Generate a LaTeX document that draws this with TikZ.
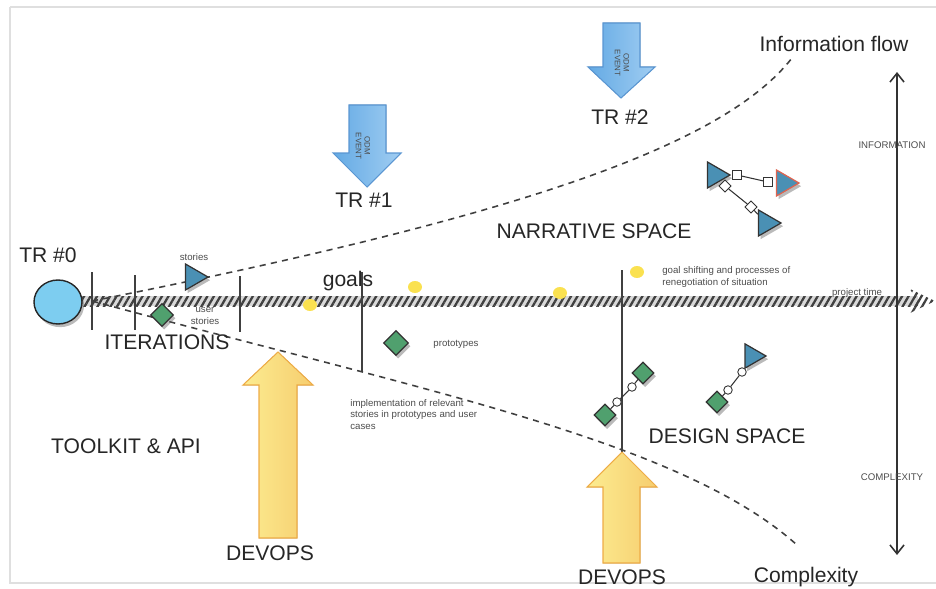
\documentclass[tikz,border=0pt]{standalone}
\usepackage{fontspec}
\setmainfont{Liberation Sans}
\usetikzlibrary{shapes.geometric,shadows,patterns.meta,arrows.meta}
\definecolor{trblue}{RGB}{125,205,240}
\definecolor{triblue}{RGB}{74,144,180}
\definecolor{diagreen}{RGB}{80,160,110}
\definecolor{dotyellow}{RGB}{250,225,80}
\definecolor{odmlight}{RGB}{160,205,242}
\definecolor{odmdark}{RGB}{100,170,228}
\definecolor{odmedge}{RGB}{90,150,210}
\definecolor{devlight}{RGB}{252,236,145}
\definecolor{devdark}{RGB}{246,205,110}
\definecolor{devedge}{RGB}{238,172,70}
\definecolor{rededge}{RGB}{222,100,80}

\begin{document}
\begin{tikzpicture}[x=0.02cm,y=-0.02cm,
  bigtext/.style={font=\fontsize{12}{14}\selectfont,inner sep=0pt,text=black!85},
  smalltext/.style={font=\fontsize{5.5}{6.5}\selectfont,inner sep=0pt,text=black!70},
  softshadow/.style={drop shadow={opacity=0.45,fill=black!60,shadow xshift=1.2pt,shadow yshift=-1.8pt}},
  storytri/.style={regular polygon,regular polygon sides=3,shape border rotate=-90,
    minimum size=0.6cm,inner sep=0pt,fill=triblue,draw=black!80,line width=0.7pt,softshadow},
  protodia/.style={diamond,minimum size=0.46cm,inner sep=0pt,fill=diagreen,
    draw=black!80,line width=0.7pt,softshadow},
  goaldot/.style={ellipse,minimum width=0.28cm,minimum height=0.24cm,inner sep=0pt,fill=dotyellow},
  port/.style={rectangle,minimum size=0.17cm,inner sep=0pt,fill=white,draw=black!80,line width=0.5pt},
  portdia/.style={port,rotate=45},
  joint/.style={circle,minimum size=0.17cm,inner sep=0pt,fill=white,draw=black!80,line width=0.5pt},
  link/.style={draw=black!80,line width=0.6pt},
  flow/.style={dash pattern=on 3.5pt off 3pt,line width=0.9pt,draw=black!75},
  tick/.style={line width=0.8pt,draw=black!75},
  odmarrow/.style={left color=odmdark,right color=odmlight,draw=odmedge,line width=0.6pt},
  devarrow/.style={left color=devlight,right color=devdark,draw=devedge,line width=0.6pt},
  odmtext/.style={font=\fontsize{4.5}{5}\selectfont,align=center,rotate=-90,inner sep=0pt,text=black!70}]
\useasboundingbox (0,0) rectangle (936,588);
\draw [gray!25,line width=1.5pt] (10,7) -- (940,7);
\draw [gray!25,line width=1.5pt] (10,7) -- (10,583) -- (940,583);

% time line
\fill [gray!30] (80,296) rectangle (918,306);
\path [pattern={Lines[angle=60,distance=3.2pt,line width=1.3pt]},pattern color=black!75] (80,296) rectangle (918,306);
\path [pattern={Lines[angle=60,distance=3.2pt,line width=1.3pt]},pattern color=black!75] (910,289) -- (935,301) -- (910,313) -- (917,301) -- cycle;
\node [smalltext] (ptime) at (857,293) {project time};

\node [ellipse,minimum width=0.96cm,minimum height=0.88cm,fill=trblue,draw=black!85,line width=0.8pt,softshadow] (tr0) at (58,302) {};
\node [bigtext] (tr0lbl) at (48,255) {TR \#0};

\draw [tick] (92,272) -- (92,330);
\draw [tick] (135,275) -- (135,330);
\draw [tick] (240,276) -- (240,332);
\draw [tick] (362,272) -- (362,372);
\draw [tick] (622,270) -- (622,452);

% flows
\coordinate (fl0) at (92,301);
\coordinate (infoend) at (792,58);
\coordinate (cplxend) at (797,545);
\draw [flow] (fl0) .. controls (500,220) and (720,150) .. (infoend);
\draw [flow] (fl0) .. controls (420,390) and (680,440) .. (cplxend);

% axis
\coordinate (axtop) at (897,72);
\coordinate (axbot) at (897,555);
\draw [line width=0.9pt,black!80,{Straight Barb[length=5pt,width=8pt]}-{Straight Barb[length=5pt,width=8pt]}] (axtop) -- (axbot);
\node [smalltext] (infolbl) at (892,145) {INFORMATION};
\node [smalltext] (cplxlbl) at (892,477) {COMPLEXITY};
\node [bigtext] (infoflow) at (834,44) {Information flow};
\node [bigtext] (cplx) at (806,577) {Complexity};

% iterations
\node [storytri] (stories) at (193,277) {};
\node [smalltext] (storieslbl) at (194,257) {stories};
\node [protodia] (userdia) at (162,315) {};
\node [smalltext,align=center] (userlbl) at (205,316) {user\\stories};
\node [bigtext] (iter) at (167,342) {ITERATIONS};

% goals
\node [goaldot] (goal1) at (310,305) {};
\node [goaldot] (goal2) at (415,287) {};
\node [goaldot] (goal3) at (560,293) {};
\node [goaldot] (goal4) at (637,272) {};
\node [bigtext] (goals) at (348,281) {goals};
\node [smalltext,align=left,anchor=west] (shift) at (662,277) {goal shifting and processes of\\renegotiation of situation};
\node [protodia,minimum size=0.5cm] (protodia) at (396,343) {};
\node [smalltext] (protolbl) at (456,344) {prototypes};
\node [smalltext,align=left,anchor=north west] (impl) at (350,399) {implementation of relevant\\stories in prototypes and user\\cases};

% events
\filldraw [odmarrow] (349,105) -- (386,105) -- (386,153) -- (401,153) -- (367,187) -- (333,153) -- (349,153) -- cycle;
\node [odmtext] (odm1) at (363,146) {ODM\\EVENT};
\node [bigtext] (tr1) at (364,200) {TR \#1};
\filldraw [odmarrow] (603,23) -- (640,23) -- (640,67) -- (655,67) -- (621,98) -- (588,67) -- (603,67) -- cycle;
\node [odmtext] (odm2) at (622,63) {ODM\\EVENT};
\node [bigtext] (tr2) at (620,117) {TR \#2};

\node [bigtext] (narr) at (594,231) {NARRATIVE SPACE};
\node [bigtext] (design) at (727,436) {DESIGN SPACE};
\node [bigtext] (toolkit) at (126,446) {TOOLKIT \& API};

% narrative net
\node [storytri] (nA) at (715,175) {};
\node [storytri,draw=rededge] (nB) at (784,183) {};
\node [storytri] (nC) at (766,223) {};
\node [port] (qa1) at (737,175) {};
\node [port] (qb1) at (768,182) {};
\node [portdia] (qa2) at (725,186) {};
\node [portdia] (qc2) at (751,207) {};
\draw [link] (qa1) -- (qb1);
\draw [link] (qa2) -- (qc2) -- (nC);

% design nets
\node [protodia,minimum size=0.44cm] (g1) at (643,373) {};
\node [joint] (j1) at (632,387) {};
\node [joint] (j2) at (617,402) {};
\node [protodia,minimum size=0.44cm] (g2) at (605,415) {};
\draw [link] (g1) -- (j1) -- (j2) -- (g2);
\node [storytri,minimum size=0.56cm] (dT) at (752,356) {};
\node [joint] (j3) at (742,372) {};
\node [joint] (j4) at (728,390) {};
\node [protodia,minimum size=0.44cm] (g3) at (717,402) {};
\draw [link] (dT) -- (j3) -- (j4) -- (g3);

% devops
\filldraw [devarrow] (259,538) -- (259,385) -- (243,385) -- (278,352) -- (313,385) -- (297,385) -- (297,538) -- cycle;
\node [bigtext] (dev1) at (270,553) {DEVOPS};
\filldraw [devarrow] (603,563) -- (603,487) -- (587,487) -- (622,452) -- (657,487) -- (640,487) -- (640,563) -- cycle;
\node [bigtext] (dev2) at (622,577) {DEVOPS};
\end{tikzpicture}
\end{document}
